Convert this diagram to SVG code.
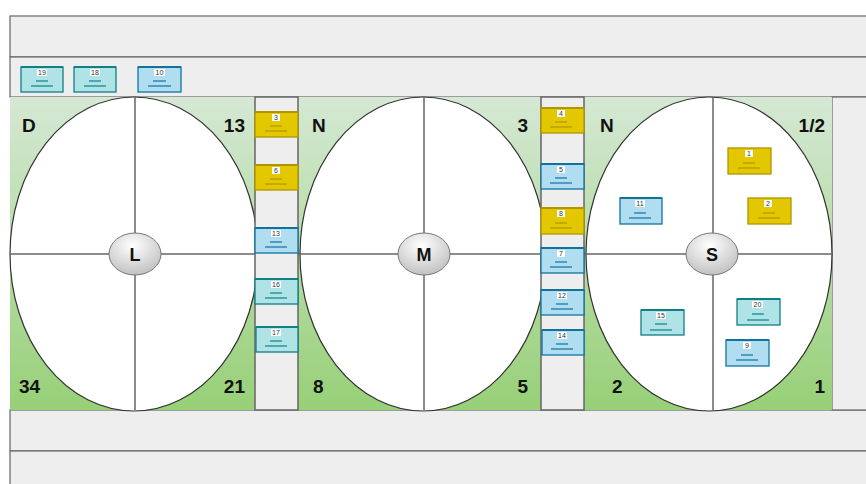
<svg xmlns="http://www.w3.org/2000/svg" width="866" height="484" viewBox="0 0 866 484">
<defs>
<linearGradient id="gr" x1="0" y1="0" x2="0" y2="1">
<stop offset="0" stop-color="#d5e8d4"/>
<stop offset="1" stop-color="#97d077"/>
</linearGradient>
<radialGradient id="cg" cx="0.45" cy="0.3" r="0.75">
<stop offset="0" stop-color="#ffffff"/>
<stop offset="1" stop-color="#bdbdbd"/>
</radialGradient>
<style>
.band{fill:#eeeeee;stroke:#666666;stroke-width:1.2}
.col{fill:#eeeeee;stroke:#666666;stroke-width:1.5}
.panel{fill:url(#gr);stroke:none}
.ell{fill:#ffffff;stroke:#333333;stroke-width:1.2}
.axis{stroke:#666666;stroke-width:1.5;fill:none}
.hub{fill:url(#cg);stroke:#777777;stroke-width:1}
.hubt{font-family:"Liberation Sans",Arial,sans-serif;font-weight:bold;font-size:18px;fill:#111;text-anchor:middle}
.lab{font-family:"Liberation Sans",Arial,sans-serif;font-weight:bold;font-size:19px;fill:#111}
.y rect.b{fill:#e3c800;stroke:#b09500}
.y line{stroke:#b09500}
.bl rect.b{fill:#b1ddf0;stroke:#10739e}
.bl line{stroke:#10739e}
.t rect.b{fill:#b0e3e6;stroke:#0e8088}
.t line{stroke:#0e8088}
rect.b{stroke-width:1.3}
.card line{stroke-width:1.2}
.card line.top{stroke-width:2}
rect.w{fill:#ffffff;stroke:none}
.num{font-family:"Liberation Sans",Arial,sans-serif;font-size:7px;fill:#333;text-anchor:middle}
</style>
</defs>
<rect x="0" y="0" width="866" height="484" fill="#ffffff"/>
<g id="frame">
<rect class="band" x="10" y="16" width="860" height="41"/>
<rect class="band" x="10" y="57" width="860" height="40"/>
<rect class="band" x="10" y="410" width="860" height="41"/>
<rect class="band" x="10" y="451" width="860" height="40"/>
<rect class="band" x="832" y="97" width="40" height="313"/>
</g>
<g id="panel-L">
<rect class="panel" x="10" y="97" width="246" height="313"/>
<ellipse class="ell" cx="134" cy="254" rx="124" ry="157"/>
<line class="axis" x1="10" y1="254" x2="256" y2="254"/>
<line class="axis" x1="135" y1="97" x2="135" y2="410"/>
<ellipse class="hub" cx="135" cy="254" rx="26" ry="21"/>
<text class="hubt" x="135" y="261">L</text>
<text class="lab" x="22" y="132">D</text>
<text class="lab" x="245" y="132" text-anchor="end">13</text>
<text class="lab" x="19" y="393">34</text>
<text class="lab" x="245" y="393" text-anchor="end">21</text>
</g>
<g id="panel-M">
<rect class="panel" x="298" y="97" width="244" height="313"/>
<ellipse class="ell" cx="423" cy="254" rx="123" ry="157"/>
<line class="axis" x1="298" y1="254" x2="542" y2="254"/>
<line class="axis" x1="424" y1="97" x2="424" y2="410"/>
<ellipse class="hub" cx="424" cy="254" rx="26" ry="21"/>
<text class="hubt" x="424" y="261">M</text>
<text class="lab" x="312" y="132">N</text>
<text class="lab" x="528" y="132" text-anchor="end">3</text>
<text class="lab" x="313" y="393">8</text>
<text class="lab" x="528" y="393" text-anchor="end">5</text>
</g>
<g id="panel-S">
<rect class="panel" x="584" y="97" width="248" height="313"/>
<ellipse class="ell" cx="709" cy="254" rx="123" ry="157"/>
<line class="axis" x1="584" y1="254" x2="832" y2="254"/>
<line class="axis" x1="713" y1="97" x2="713" y2="410"/>
<ellipse class="hub" cx="712" cy="254" rx="26" ry="21"/>
<text class="hubt" x="712" y="261">S</text>
<text class="lab" x="600" y="132">N</text>
<text class="lab" x="825" y="132" text-anchor="end">1/2</text>
<text class="lab" x="612" y="393">2</text>
<text class="lab" x="825" y="393" text-anchor="end">1</text>
</g>
<g id="columns">
<rect class="col" x="255" y="97" width="43" height="313"/>
<rect class="col" x="541" y="97" width="43" height="313"/>
</g>
<g id="connectors"></g>
<g id="card-19" class="card t"><rect class="b" x="21" y="67" width="42" height="25"/><line class="top" x1="21" y1="67" x2="63" y2="67"/><rect class="w" x="37" y="69" width="10" height="7"/><text class="num" x="42" y="75">19</text><line x1="36" y1="81" x2="48" y2="81"/><line x1="31" y1="86" x2="53" y2="86"/></g>
<g id="card-18" class="card t"><rect class="b" x="74" y="67" width="42" height="25"/><line class="top" x1="74" y1="67" x2="116" y2="67"/><rect class="w" x="90" y="69" width="10" height="7"/><text class="num" x="95" y="75">18</text><line x1="89" y1="81" x2="101" y2="81"/><line x1="84" y1="86" x2="106" y2="86"/></g>
<g id="card-10" class="card bl"><rect class="b" x="138" y="67" width="43" height="25"/><line class="top" x1="138" y1="67" x2="181" y2="67"/><rect class="w" x="154" y="69" width="11" height="7"/><text class="num" x="159.5" y="75">10</text><line x1="153" y1="81" x2="166" y2="81"/><line x1="148" y1="86" x2="171" y2="86"/></g>
<g id="card-3" class="card y"><rect class="b" x="255" y="112" width="43" height="25"/><line class="top" x1="255" y1="112" x2="298" y2="112"/><rect class="w" x="272" y="114" width="8" height="7"/><text class="num" x="276" y="120">3</text><line x1="270" y1="126" x2="282" y2="126"/><line x1="265" y1="131" x2="287" y2="131"/></g>
<g id="card-6" class="card y"><rect class="b" x="255" y="165" width="43" height="25"/><line class="top" x1="255" y1="165" x2="298" y2="165"/><rect class="w" x="272" y="167" width="8" height="7"/><text class="num" x="276" y="173">6</text><line x1="270" y1="179" x2="282" y2="179"/><line x1="265" y1="184" x2="287" y2="184"/></g>
<g id="card-13" class="card bl"><rect class="b" x="255" y="228" width="43" height="25"/><line class="top" x1="255" y1="228" x2="298" y2="228"/><rect class="w" x="271" y="230" width="10" height="7"/><text class="num" x="276" y="236">13</text><line x1="270" y1="242" x2="282" y2="242"/><line x1="265" y1="247" x2="287" y2="247"/></g>
<g id="card-16" class="card t"><rect class="b" x="255" y="279" width="43" height="25"/><line class="top" x1="255" y1="279" x2="298" y2="279"/><rect class="w" x="271" y="281" width="10" height="7"/><text class="num" x="276" y="287">16</text><line x1="270" y1="293" x2="282" y2="293"/><line x1="265" y1="298" x2="287" y2="298"/></g>
<g id="card-17" class="card t"><rect class="b" x="256" y="327" width="42" height="25"/><line class="top" x1="256" y1="327" x2="298" y2="327"/><rect class="w" x="271" y="329" width="10" height="7"/><text class="num" x="276" y="335">17</text><line x1="270" y1="341" x2="282" y2="341"/><line x1="265" y1="346" x2="287" y2="346"/></g>
<g id="card-4" class="card y"><rect class="b" x="541" y="108" width="43" height="25"/><line class="top" x1="541" y1="108" x2="584" y2="108"/><rect class="w" x="557" y="110" width="8" height="7"/><text class="num" x="561" y="116">4</text><line x1="555" y1="122" x2="567" y2="122"/><line x1="550" y1="127" x2="572" y2="127"/></g>
<g id="card-5" class="card bl"><rect class="b" x="541" y="164" width="43" height="25"/><line class="top" x1="541" y1="164" x2="584" y2="164"/><rect class="w" x="557" y="166" width="8" height="7"/><text class="num" x="561" y="172">5</text><line x1="555" y1="178" x2="567" y2="178"/><line x1="550" y1="183" x2="572" y2="183"/></g>
<g id="card-8" class="card y"><rect class="b" x="541" y="208" width="43" height="26"/><line class="top" x1="541" y1="208" x2="584" y2="208"/><rect class="w" x="557" y="210" width="8" height="7"/><text class="num" x="561" y="216">8</text><line x1="555" y1="223" x2="567" y2="223"/><line x1="550" y1="228" x2="572" y2="228"/></g>
<g id="card-7" class="card bl"><rect class="b" x="541" y="248" width="43" height="25"/><line class="top" x1="541" y1="248" x2="584" y2="248"/><rect class="w" x="557" y="250" width="8" height="7"/><text class="num" x="561" y="256">7</text><line x1="555" y1="262" x2="567" y2="262"/><line x1="550" y1="267" x2="572" y2="267"/></g>
<g id="card-12" class="card bl"><rect class="b" x="541" y="290" width="43" height="25"/><line class="top" x1="541" y1="290" x2="584" y2="290"/><rect class="w" x="557" y="292" width="10" height="7"/><text class="num" x="562" y="298">12</text><line x1="556" y1="304" x2="568" y2="304"/><line x1="551" y1="309" x2="573" y2="309"/></g>
<g id="card-14" class="card bl"><rect class="b" x="542" y="330" width="42" height="25"/><line class="top" x1="542" y1="330" x2="584" y2="330"/><rect class="w" x="557" y="332" width="10" height="7"/><text class="num" x="562" y="338">14</text><line x1="556" y1="344" x2="568" y2="344"/><line x1="551" y1="349" x2="573" y2="349"/></g>
<g id="card-1" class="card y"><rect class="b" x="728" y="148" width="43" height="26"/><rect class="w" x="745" y="150" width="8" height="7"/><text class="num" x="749" y="156">1</text><line x1="743" y1="163" x2="755" y2="163"/><line x1="738" y1="168" x2="760" y2="168"/></g>
<g id="card-2" class="card y"><rect class="b" x="748" y="198" width="43" height="26"/><rect class="w" x="764" y="200" width="8" height="7"/><text class="num" x="768" y="206">2</text><line x1="763" y1="213" x2="775" y2="213"/><line x1="758" y1="218" x2="780" y2="218"/></g>
<g id="card-11" class="card bl"><rect class="b" x="620" y="198" width="42" height="26"/><line class="top" x1="620" y1="198" x2="662" y2="198"/><rect class="w" x="635" y="200" width="10" height="7"/><text class="num" x="640" y="206">11</text><line x1="634" y1="213" x2="646" y2="213"/><line x1="629" y1="218" x2="651" y2="218"/></g>
<g id="card-15" class="card t"><rect class="b" x="641" y="310" width="43" height="25"/><line class="top" x1="641" y1="310" x2="684" y2="310"/><rect class="w" x="656" y="312" width="10" height="7"/><text class="num" x="661" y="318">15</text><line x1="655" y1="324" x2="667" y2="324"/><line x1="650" y1="330" x2="672" y2="330"/></g>
<g id="card-20" class="card t"><rect class="b" x="737" y="299" width="43" height="26"/><line class="top" x1="737" y1="299" x2="780" y2="299"/><rect class="w" x="752" y="301" width="11" height="7"/><text class="num" x="757.5" y="307">20</text><line x1="752" y1="314" x2="764" y2="314"/><line x1="747" y1="320" x2="769" y2="320"/></g>
<g id="card-9" class="card bl"><rect class="b" x="726" y="340" width="43" height="26"/><line class="top" x1="726" y1="340" x2="769" y2="340"/><rect class="w" x="743" y="342" width="8" height="7"/><text class="num" x="747" y="348">9</text><line x1="741" y1="355" x2="753" y2="355"/><line x1="736" y1="360" x2="758" y2="360"/></g>
</svg>
